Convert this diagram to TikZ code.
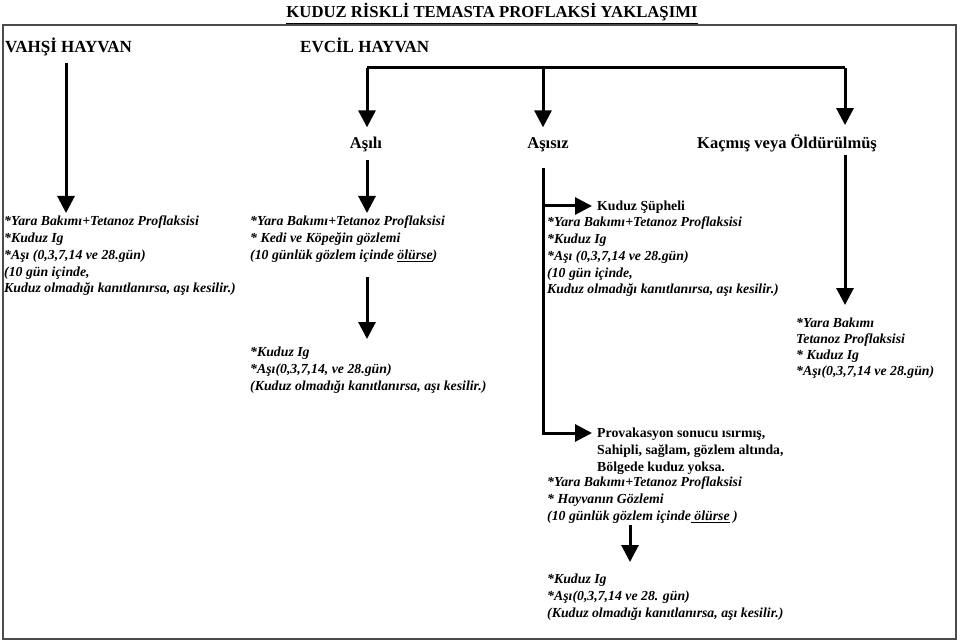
\documentclass[tikz,border=0pt]{standalone}
\usepackage{fontspec}
\setmainfont{Liberation Serif}
\usetikzlibrary{arrows.meta}
\begin{document}
\begin{tikzpicture}[x=1pt,y=-1pt,
  arr/.style={line width=3pt,-{Triangle[width=17pt,length=17pt]}},
  ln/.style={line width=3pt},
  head/.style={font=\fontsize{17}{20}\selectfont\bfseries,inner sep=0pt},
  lbl/.style={font=\fontsize{16.5}{19}\selectfont\bfseries,inner sep=0pt,anchor=base},
  it/.style={font=\fontsize{13.8}{16.75}\selectfont\bfseries\itshape,inner sep=0pt,align=left,anchor=north west},
  bt/.style={font=\fontsize{13.8}{16.75}\selectfont\bfseries,inner sep=0pt,align=left,anchor=north west},
]
\useasboundingbox (0,0) rectangle (960,644);
\fill[white] (0,0) rectangle (960,644);
\draw[line width=2pt,black!70] (3,25) rectangle (956,639);

\node[head,font=\fontsize{16.7}{20}\selectfont\bfseries,anchor=base] (title) at (492,18) {\underline{KUDUZ RİSKLİ TEMASTA PROFLAKSİ YAKLAŞIMI}};
\node[head,anchor=base west] (vahsi) at (5,53) {VAHŞİ HAYVAN};
\node[head,anchor=base west] (evcil) at (300,53) {EVCİL HAYVAN};
\node[lbl] (asili) at (366,149) {Aşılı};
\node[lbl] (asisiz) at (548,149) {Aşısız};
\node[lbl] (kacmis) at (787,149) {Kaçmış veya Öldürülmüş};

\node[it] (wild) at (4,216) {*Yara Bakımı+Tetanoz Proflaksisi\\*Kuduz Ig\\*Aşı (0,3,7,14 ve 28.gün)\\(10 gün içinde,\\Kuduz olmadığı kanıtlanırsa, aşı kesilir.)};
\node[it] (vacc1) at (250,216) {*Yara Bakımı+Tetanoz Proflaksisi\\* Kedi ve Köpeğin gözlemi\\(10 günlük gözlem içinde \underline{ölürse})};
\node[it] (vacc2) at (250,347) {*Kuduz Ig\\*Aşı(0,3,7,14, ve 28.gün)\\(Kuduz olmadığı kanıtlanırsa, aşı kesilir.)};
\node[bt,anchor=base west] (susp) at (597,211) {Kuduz Şüpheli};
\node[it] (susptxt) at (547,217) {*Yara Bakımı+Tetanoz Proflaksisi\\*Kuduz Ig\\*Aşı (0,3,7,14 ve 28.gün)\\(10 gün içinde,\\Kuduz olmadığı kanıtlanırsa, aşı kesilir.)};
\node[it,font=\fontsize{13.8}{16}\selectfont\bfseries\itshape] (kactxt) at (796,318) {*Yara Bakımı\\Tetanoz Proflaksisi\\* Kuduz Ig\\*Aşı(0,3,7,14 ve 28.gün)};
\node[bt] (prov) at (597,428) {Provakasyon sonucu ısırmış,\\Sahipli, sağlam, gözlem altında,\\Bölgede kuduz yoksa.};
\node[it] (provtxt) at (547,477) {*Yara Bakımı+Tetanoz Proflaksisi\\* Hayvanın Gözlemi\\(10 günlük gözlem içinde\underline{ ölürse} )};
\node[it] (final) at (547,574) {*Kuduz Ig\\*Aşı(0,3,7,14 ve 28. gün)\\(Kuduz olmadığı kanıtlanırsa, aşı kesilir.)};

\coordinate (w0) at (66,63);
\coordinate (eL) at (367,68);
\coordinate (eM) at (543,68);
\coordinate (eR) at (845,68);
\coordinate (v1) at (367,160);
\coordinate (v2) at (367,277);
\coordinate (s0) at (543,168);
\coordinate (k0) at (845,155);
\coordinate (p0) at (630,525);
\coordinate (sj) at ([xshift=-5pt,yshift=5pt]susp.base west);
\coordinate (pj) at ([xshift=-5pt,yshift=-5pt]prov.north west);

\draw[arr] (w0) -- ([yshift=3pt]w0 |- wild.north);
\draw[ln] (eL) -- (eR);
\draw[arr] (eL) -- ([yshift=10pt]eL |- asili.north);
\draw[arr] (eM) -- ([yshift=10pt]eM |- asili.north);
\draw[arr] (eR) -- ([yshift=10pt]eR |- kacmis.north);
\draw[arr] (v1) -- ([yshift=3pt]v1 |- vacc1.north);
\draw[arr] (v2) -- ([yshift=8pt]v2 |- vacc2.north);
\draw[arr] (s0 |- sj) -- (sj);
\draw[arr] (s0) |- (pj);
\draw[arr] (k0) -- ([yshift=13pt]k0 |- kactxt.north);
\draw[arr] (p0) -- ([yshift=12pt]p0 |- final.north);
\end{tikzpicture}
\end{document}
